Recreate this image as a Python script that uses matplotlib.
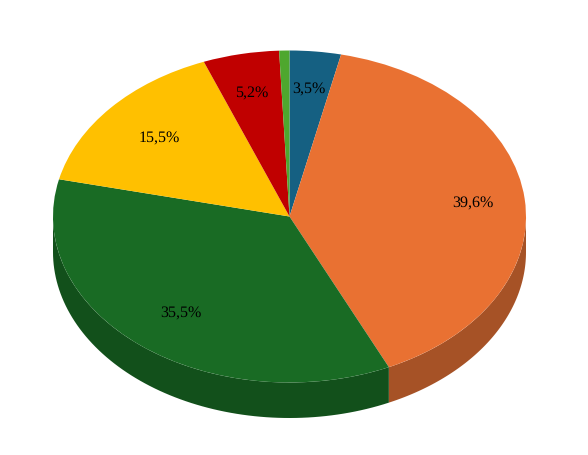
import numpy as np
import matplotlib
matplotlib.use("Agg")
import matplotlib.pyplot as plt

# pie shares, clockwise from the top
shares = [3.5, 39.6, 35.5, 15.5, 5.2, 0.7]
colors = ["#156082", "#E97132", "#196B24", "#FFC000", "#C00000", "#4EA72E"]
side_colors = ["#0F4560", "#A65226", "#12501B", "#B88A00", "#8A0000", "#387A20"]
min_label = 1.0

plt.rcParams["font.family"] = ["Liberation Serif", "DejaVu Sans"]
plt.rcParams["text.hinting"] = "none"

fig = plt.figure(figsize=(5.88, 4.55), dpi=100)
ax = fig.add_axes([0, 0, 1, 1])

wedges, texts, autotexts = ax.pie(
    shares,
    colors=colors,
    startangle=90,
    counterclock=False,
    autopct=lambda p: f"{p:.1f}%".replace(".", ",") if p > min_label else "",
    pctdistance=0.76,
    textprops={"fontsize": 11.5, "color": "black"},
)

# squash the circle into the tilted ellipse
rx, ry = 236.5, 166
cx, cy = 289.5, 216.5
ax.set_aspect("auto")
ax.set_xlim(-cx / rx, (588 - cx) / rx)
ax.set_ylim(-(455 - cy) / ry, cy / ry)
ax.axis("off")

# labels sit a few px off the plain pie position (dx, dy up)
nudges = [(0, 1), (5, -1), (5, 1), (6, -5), (-1, -1), (0, 0)]
for txt, (dx, dy) in zip(autotexts, nudges):
    x, y = txt.get_position()
    txt.set_position((x + dx / rx, y + dy / ry))

# side wall of the front half
depth = 35.5 / ry
for w, c in zip(wedges, side_colors):
    a = w.theta1 % 360
    b = a + (w.theta2 - w.theta1)
    a, b = max(a, 180), min(b, 360)
    if b <= a:
        continue
    t = np.radians(np.linspace(a, b, 80))
    x = np.cos(t)
    y = np.sin(t)
    ax.fill(
        np.r_[x, x[::-1]],
        np.r_[y, y[::-1] - depth],
        color=c,
        lw=0,
        zorder=0,
    )

fig.savefig("out.png", dpi=100)
